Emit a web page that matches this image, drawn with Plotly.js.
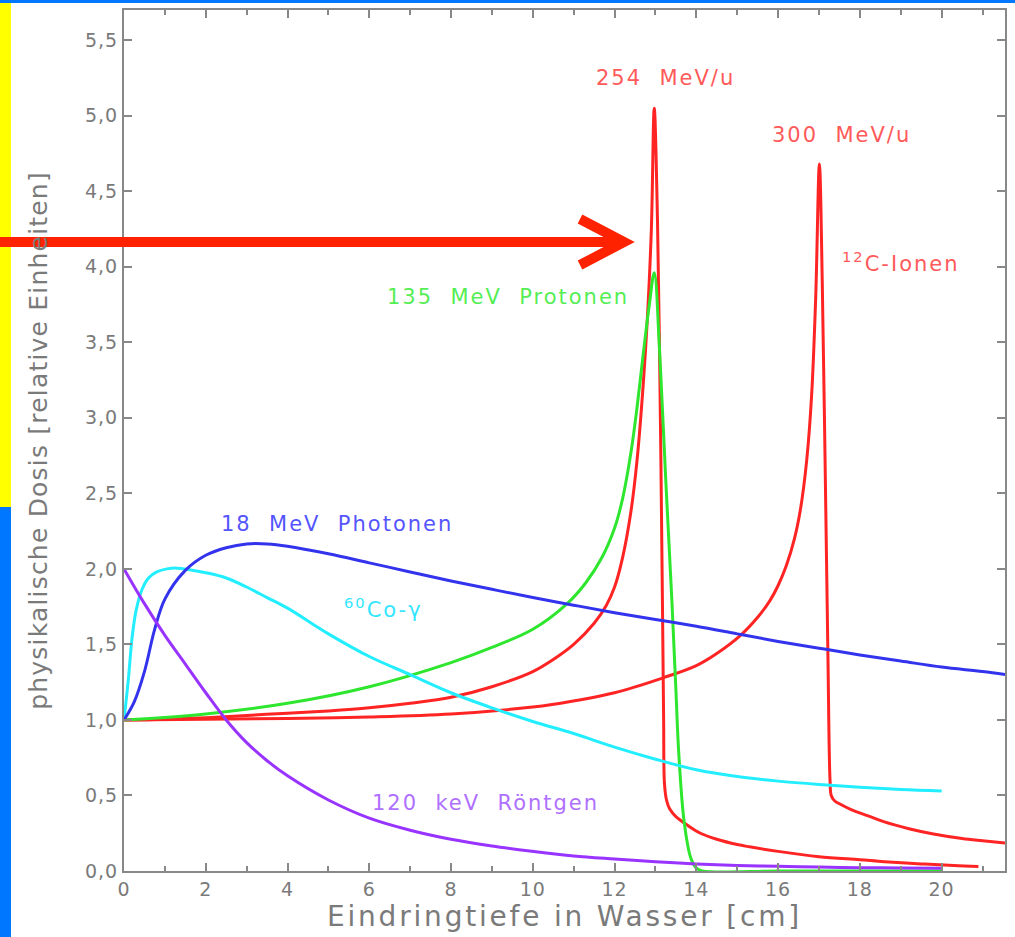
<!DOCTYPE html>
<html>
<head>
<meta charset="utf-8">
<script src="https://cdn.plot.ly/plotly-3.0.1.min.js"></script>
<style>
html,body{margin:0;padding:0;background:#fff;}
#chart{width:1015px;height:937px;}
.annotation-text{letter-spacing:2px;}
.xtitle{letter-spacing:2.8px;}
.ytitle{letter-spacing:1.2px;}
.xtick text,.ytick text{letter-spacing:1px;}
</style>
</head>
<body>
<div id="chart"></div>
<script>
// ---- data (depth in cm, relative dose) ----
const c254X = [0, 1, 2, 3, 4, 5, 6, 7, 8, 9, 10, 10.5, 11, 11.5, 11.8, 12.0, 12.2, 12.4, 12.55, 12.7, 12.8, 12.9, 12.97, 13.05, 13.12, 13.17, 13.2, 13.22, 13.27, 13.35, 13.5, 13.8, 14.1, 14.5, 15, 15.3, 16, 17, 18, 18.6, 19.5, 20.3, 20.9];
const c254Y = [1.0, 1.005, 1.015, 1.03, 1.045, 1.06, 1.08, 1.11, 1.15, 1.22, 1.32, 1.4, 1.5, 1.64, 1.76, 1.88, 2.08, 2.38, 2.72, 3.22, 3.65, 4.25, 5.05, 4.3, 3.0, 1.8, 1.0, 0.58, 0.47, 0.41, 0.36, 0.3, 0.25, 0.21, 0.175, 0.16, 0.13, 0.095, 0.075, 0.062, 0.047, 0.036, 0.03];

const c300X = [0, 2, 4, 6, 8, 10, 10.43, 12, 13.2, 14, 14.5, 15.08, 15.5, 15.8, 16.0, 16.2, 16.4, 16.55, 16.7, 16.82, 16.92, 17.01, 17.08, 17.15, 17.22, 17.27, 17.3, 17.38, 17.5, 17.8, 18.2, 18.6, 19.2, 19.8, 20.5, 21, 21.55];
const c300Y = [1.0, 1.005, 1.01, 1.02, 1.04, 1.085, 1.1, 1.18, 1.28, 1.36, 1.44, 1.56, 1.68, 1.79, 1.89, 2.02, 2.2, 2.4, 2.72, 3.15, 3.8, 4.68, 3.9, 2.7, 1.4, 0.6, 0.5, 0.465, 0.445, 0.405, 0.365, 0.325, 0.28, 0.245, 0.215, 0.2, 0.185];

const protX = [0, 2, 4, 6, 8, 9, 10, 10.84, 11.3, 11.7, 12.0, 12.2, 12.4, 12.55, 12.7, 12.85, 12.97, 13.1, 13.25, 13.4, 13.5, 13.57, 13.7, 13.86, 14.0, 14.15, 16, 18, 20];
const protY = [1.0, 1.04, 1.11, 1.22, 1.38, 1.48, 1.6, 1.77, 1.91, 2.08, 2.27, 2.47, 2.77, 3.07, 3.42, 3.75, 3.96, 3.45, 2.6, 1.8, 1.2, 0.78, 0.33, 0.09, 0.02, 0.0, 0.0, 0.0, 0.0];

const photX = [0, 0.25, 0.5, 0.75, 1.0, 1.5, 2.0, 2.5, 3.0, 3.5, 4, 5, 6, 7, 8, 9, 10, 11, 12, 13, 14, 15, 16, 17, 18, 19, 20, 21, 21.55];
const photY = [1.0, 1.12, 1.32, 1.6, 1.8, 1.99, 2.09, 2.14, 2.165, 2.165, 2.15, 2.1, 2.04, 1.98, 1.92, 1.865, 1.81, 1.76, 1.71, 1.665, 1.62, 1.57, 1.52, 1.475, 1.43, 1.39, 1.35, 1.32, 1.30];

const coX = [0, 0.1, 0.2, 0.3, 0.45, 0.6, 0.8, 1.05, 1.3, 1.6, 2.0, 2.5, 3.0, 3.5, 4, 5, 6, 7, 8, 9, 10, 11, 12, 13, 14, 15, 16, 17, 18, 19, 20];
const coY = [1.0, 1.25, 1.55, 1.73, 1.87, 1.94, 1.98, 2.0, 2.005, 1.995, 1.975, 1.94, 1.88, 1.81, 1.74, 1.57, 1.42, 1.3, 1.18, 1.08, 0.99, 0.91, 0.82, 0.74, 0.67, 0.625, 0.595, 0.573, 0.555, 0.54, 0.53];

const xrayX = [0, 0.5, 1.0, 1.5, 2.0, 2.5, 3.0, 3.5, 4.0, 5.0, 6.0, 7.0, 8.0, 9.0, 10, 11, 12, 13, 14, 15, 16, 17, 18, 19, 20];
const xrayY = [2.0, 1.77, 1.56, 1.37, 1.18, 1.0, 0.85, 0.73, 0.63, 0.47, 0.35, 0.27, 0.21, 0.165, 0.13, 0.1, 0.08, 0.062, 0.047, 0.037, 0.031, 0.026, 0.022, 0.02, 0.018];

const xTickVals = [0, 2, 4, 6, 8, 10, 12, 14, 16, 18, 20];
const xTickText = ["0", "2", "4", "6", "8", "10", "12", "14", "16", "18", "20"];
const yTickVals = [0, 0.5, 1.0, 1.5, 2.0, 2.5, 3.0, 3.5, 4.0, 4.5, 5.0, 5.5];
const yTickText = ["0,0", "0,5", "1,0", "1,5", "2,0", "2,5", "3,0", "3,5", "4,0", "4,5", "5,0", "5,5"];

const labels = [
  {text: "254\u00a0\u00a0MeV/u", x: 13.25, y: 5.25, color: "#ff5a5a"},
  {text: "300\u00a0\u00a0MeV/u", x: 17.55, y: 4.87, color: "#ff5a5a"},
  {text: "<sup>12</sup>C-Ionen", x: 19.0, y: 4.03, color: "#ff5a5a"},
  {text: "135\u00a0\u00a0MeV\u00a0\u00a0Protonen", x: 9.4, y: 3.8, color: "#55ee55"},
  {text: "18\u00a0\u00a0MeV\u00a0\u00a0Photonen", x: 5.2, y: 2.3, color: "#5555ff"},
  {text: "<sup>60</sup>Co-\u03b3", x: 6.35, y: 1.74, color: "#33e6ff"},
  {text: "120\u00a0\u00a0keV\u00a0\u00a0R\u00f6ntgen", x: 8.85, y: 0.45, color: "#b070ff"}
];

// ---- traces ----
function tr(x, y, color) {
  return {x: x, y: y, mode: "lines", type: "scatter", hoverinfo: "skip",
          line: {color: color, width: 3, shape: "spline", smoothing: 1.0}};
}
const data = [
  tr(c300X, c300Y, "#ff2424"),
  tr(c254X, c254Y, "#ff2424"),
  tr(protX, protY, "#2ee62e"),
  tr(coX, coY, "#22eeff"),
  tr(photX, photY, "#3333ee"),
  tr(xrayX, xrayY, "#9933ff")
];

// pixel helpers for decorations (plot area 124..1005 x 10..871)
const L = 124, R = 1005, T = 10, B = 871;
const px = p => (p - L) / (R - L);
const py = p => (B - p) / (B - T);

const shapes = [
  {type: "rect", xref: "paper", yref: "paper", x0: px(0), x1: px(11), y0: py(0), y1: py(507), fillcolor: "#ffff00", line: {width: 0}, layer: "below"},
  {type: "rect", xref: "paper", yref: "paper", x0: px(0), x1: px(11), y0: py(507), y1: py(937), fillcolor: "#0077ff", line: {width: 0}, layer: "below"},
  {type: "rect", xref: "paper", yref: "paper", x0: px(0), x1: px(1015), y0: py(0), y1: py(3), fillcolor: "#0077ff", line: {width: 0}, layer: "below"},
  {type: "line", xref: "paper", yref: "paper", x0: px(0), x1: px(618), y0: py(242), y1: py(242), line: {color: "#ff2200", width: 10}},
  {type: "path", xref: "paper", yref: "paper", path: "M " + px(580) + "," + py(219) + " L " + px(624) + "," + py(242) + " L " + px(580) + "," + py(265), line: {color: "#ff2200", width: 10}}
];

const annotations = labels.map(l => ({
  x: l.x, y: l.y, xref: "x", yref: "y", text: l.text, showarrow: false,
  font: {family: "DejaVu Sans", size: 21, color: l.color}
}));

const axisFont = {family: "DejaVu Sans", size: 19, color: "#7a7a7a"};
const layout = {
  width: 1015, height: 937,
  margin: {l: 124, r: 10, t: 10, b: 66, pad: 0},
  paper_bgcolor: "#ffffff", plot_bgcolor: "#ffffff",
  showlegend: false,
  xaxis: {
    range: [0, 21.55], tickmode: "array", tickvals: xTickVals, ticktext: xTickText,
    ticks: "inside", ticklen: 8, tickwidth: 2, tickcolor: "#888",
    showline: true, linecolor: "#888", linewidth: 2, mirror: "ticks",
    showgrid: false, zeroline: false, tickfont: axisFont,
    minor: {tickmode: "linear", tick0: 0, dtick: 1, ticks: "inside", ticklen: 5, tickwidth: 2, tickcolor: "#888", showgrid: false},
    title: {text: "Eindringtiefe in Wasser [cm]", font: {family: "DejaVu Sans", size: 28, color: "#7a7a7a"}, standoff: 4}
  },
  yaxis: {
    range: [0, 5.7], tickmode: "array", tickvals: yTickVals, ticktext: yTickText,
    ticks: "inside", ticklen: 8, tickwidth: 2, tickcolor: "#888",
    showline: true, linecolor: "#888", linewidth: 2, mirror: "ticks",
    showgrid: false, zeroline: false, tickfont: axisFont,
    title: {text: "physikalische Dosis [relative Einheiten]", font: {family: "DejaVu Sans", size: 25, color: "#7a7a7a"}, standoff: 30}
  },
  shapes: shapes,
  annotations: annotations
};

Plotly.newPlot("chart", data, layout, {displayModeBar: false, staticPlot: true});
</script>
</body>
</html>
